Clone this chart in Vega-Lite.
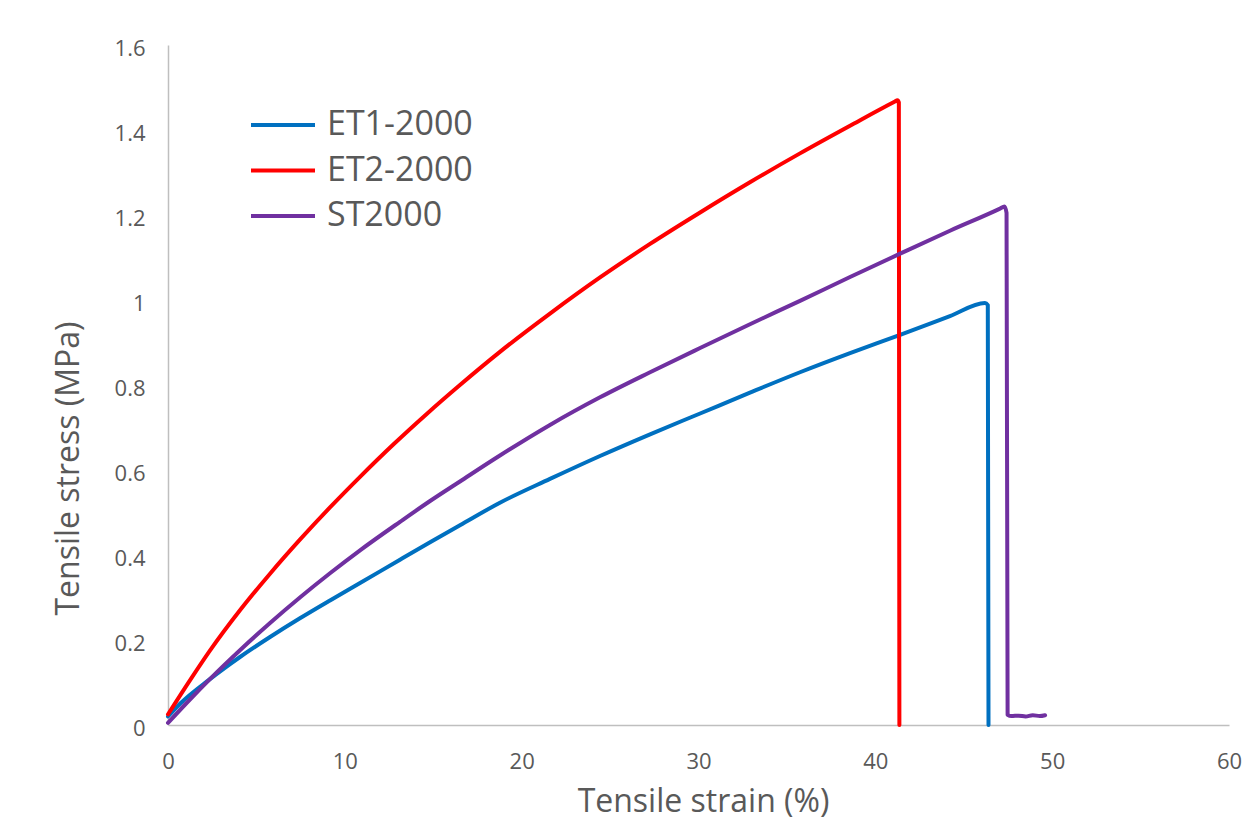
{
  "$schema": "https://vega.github.io/schema/vega-lite/v6.json",
  "autosize": {"type": "none"},
  "width": 1061,
  "height": 680,
  "padding": {"left": 168, "top": 45, "right": 31, "bottom": 98},
  "background": "white",
  "config": {
    "view": {"stroke": null},
    "font": "Open Sans",
    "axis": {
      "grid": false,
      "ticks": false,
      "labelFlush": false,
      "domainColor": "#BFBFBF",
      "domainWidth": 1.5,
      "labelColor": "#595959",
      "labelFont": "Open Sans",
      "labelFontSize": 22,
      "titleColor": "#595959",
      "titleFont": "Open Sans",
      "titleFontSize": 32,
      "titleFontWeight": "normal"
    }
  },
  "data": {
    "values": [
      {"series": "ET1-2000", "strain": 0.0, "stress": 0.02},
      {"series": "ET1-2000", "strain": 0.68, "stress": 0.05},
      {"series": "ET1-2000", "strain": 2.37, "stress": 0.108},
      {"series": "ET1-2000", "strain": 4.07, "stress": 0.16},
      {"series": "ET1-2000", "strain": 5.77, "stress": 0.207},
      {"series": "ET1-2000", "strain": 7.46, "stress": 0.251},
      {"series": "ET1-2000", "strain": 9.16, "stress": 0.293},
      {"series": "ET1-2000", "strain": 10.86, "stress": 0.334},
      {"series": "ET1-2000", "strain": 13.12, "stress": 0.389},
      {"series": "ET1-2000", "strain": 14.82, "stress": 0.43},
      {"series": "ET1-2000", "strain": 16.51, "stress": 0.47},
      {"series": "ET1-2000", "strain": 18.77, "stress": 0.523},
      {"series": "ET1-2000", "strain": 21.6, "stress": 0.579},
      {"series": "ET1-2000", "strain": 24.43, "stress": 0.633},
      {"series": "ET1-2000", "strain": 27.26, "stress": 0.684},
      {"series": "ET1-2000", "strain": 30.09, "stress": 0.733},
      {"series": "ET1-2000", "strain": 32.91, "stress": 0.782},
      {"series": "ET1-2000", "strain": 35.74, "stress": 0.83},
      {"series": "ET1-2000", "strain": 38.57, "stress": 0.875},
      {"series": "ET1-2000", "strain": 41.4, "stress": 0.918},
      {"series": "ET1-2000", "strain": 44.22, "stress": 0.962},
      {"series": "ET1-2000", "strain": 46.2, "stress": 0.993},
      {"series": "ET1-2000", "strain": 46.36, "stress": 0.988},
      {"series": "ET1-2000", "strain": 46.4, "stress": 0.0},

      {"series": "ET2-2000", "strain": 0.0, "stress": 0.025},
      {"series": "ET2-2000", "strain": 1.24, "stress": 0.105},
      {"series": "ET2-2000", "strain": 2.37, "stress": 0.175},
      {"series": "ET2-2000", "strain": 4.07, "stress": 0.27},
      {"series": "ET2-2000", "strain": 5.77, "stress": 0.356},
      {"series": "ET2-2000", "strain": 7.46, "stress": 0.436},
      {"series": "ET2-2000", "strain": 9.16, "stress": 0.512},
      {"series": "ET2-2000", "strain": 10.86, "stress": 0.584},
      {"series": "ET2-2000", "strain": 12.74, "stress": 0.66},
      {"series": "ET2-2000", "strain": 14.63, "stress": 0.732},
      {"series": "ET2-2000", "strain": 16.51, "stress": 0.8},
      {"series": "ET2-2000", "strain": 18.77, "stress": 0.878},
      {"series": "ET2-2000", "strain": 21.6, "stress": 0.968},
      {"series": "ET2-2000", "strain": 24.43, "stress": 1.053},
      {"series": "ET2-2000", "strain": 27.26, "stress": 1.132},
      {"series": "ET2-2000", "strain": 30.09, "stress": 1.206},
      {"series": "ET2-2000", "strain": 32.91, "stress": 1.277},
      {"series": "ET2-2000", "strain": 35.74, "stress": 1.345},
      {"series": "ET2-2000", "strain": 38.57, "stress": 1.41},
      {"series": "ET2-2000", "strain": 41.11, "stress": 1.467},
      {"series": "ET2-2000", "strain": 41.25, "stress": 1.47},
      {"series": "ET2-2000", "strain": 41.33, "stress": 1.465},
      {"series": "ET2-2000", "strain": 41.36, "stress": 0.0},

      {"series": "ST2000", "strain": 0.0, "stress": 0.005},
      {"series": "ST2000", "strain": 1.24, "stress": 0.06},
      {"series": "ST2000", "strain": 2.37, "stress": 0.108},
      {"series": "ST2000", "strain": 4.07, "stress": 0.176},
      {"series": "ST2000", "strain": 5.77, "stress": 0.24},
      {"series": "ST2000", "strain": 7.46, "stress": 0.3},
      {"series": "ST2000", "strain": 9.16, "stress": 0.357},
      {"series": "ST2000", "strain": 10.86, "stress": 0.411},
      {"series": "ST2000", "strain": 13.12, "stress": 0.478},
      {"series": "ST2000", "strain": 14.82, "stress": 0.527},
      {"series": "ST2000", "strain": 16.51, "stress": 0.573},
      {"series": "ST2000", "strain": 18.77, "stress": 0.634},
      {"series": "ST2000", "strain": 21.6, "stress": 0.706},
      {"series": "ST2000", "strain": 24.43, "stress": 0.771},
      {"series": "ST2000", "strain": 27.26, "stress": 0.83},
      {"series": "ST2000", "strain": 30.09, "stress": 0.887},
      {"series": "ST2000", "strain": 32.91, "stress": 0.943},
      {"series": "ST2000", "strain": 35.74, "stress": 0.998},
      {"series": "ST2000", "strain": 38.57, "stress": 1.054},
      {"series": "ST2000", "strain": 41.4, "stress": 1.109},
      {"series": "ST2000", "strain": 44.22, "stress": 1.163},
      {"series": "ST2000", "strain": 47.05, "stress": 1.215},
      {"series": "ST2000", "strain": 47.3, "stress": 1.22},
      {"series": "ST2000", "strain": 47.42, "stress": 1.205},
      {"series": "ST2000", "strain": 47.48, "stress": 0.024},
      {"series": "ST2000", "strain": 47.7, "stress": 0.021},
      {"series": "ST2000", "strain": 48.1, "stress": 0.022},
      {"series": "ST2000", "strain": 48.5, "stress": 0.02},
      {"series": "ST2000", "strain": 48.9, "stress": 0.023},
      {"series": "ST2000", "strain": 49.3, "stress": 0.021},
      {"series": "ST2000", "strain": 49.6, "stress": 0.023}
    ]
  },
  "mark": {"type": "line", "strokeWidth": 4, "strokeCap": "round", "strokeJoin": "round", "interpolate": "monotone"},
  "encoding": {
    "x": {
      "field": "strain",
      "type": "quantitative",
      "scale": {"domain": [0, 60], "nice": false, "zero": false},
      "axis": {
        "values": [0, 10, 20, 30, 40, 50, 60],
        "labelPadding": 26,
        "title": "Tensile strain (%)",
        "titleX": 535,
        "titleY": 76,
        "titleBaseline": "middle"
      }
    },
    "y": {
      "field": "stress",
      "type": "quantitative",
      "scale": {"domain": [0, 1.6], "nice": false},
      "axis": {
        "values": [0, 0.2, 0.4, 0.6, 0.8, 1, 1.2, 1.4, 1.6],
        "format": ".1~f",
        "labelPadding": 23,
        "labelOffset": 3,
        "title": "Tensile stress (MPa)",
        "titleX": -100,
        "titleY": 423,
        "titleAngle": -90,
        "titleBaseline": "middle"
      }
    },
    "color": {
      "field": "series",
      "type": "nominal",
      "scale": {
        "domain": ["ET1-2000", "ET2-2000", "ST2000"],
        "range": ["#0070C0", "#FF0000", "#7030A0"]
      },
      "legend": {
        "title": null,
        "orient": "none",
        "legendX": 97,
        "legendY": 62,
        "symbolType": "M-2,0H2",
        "symbolSize": 1024,
        "symbolStrokeWidth": 4,
        "labelFont": "Open Sans",
        "labelFontSize": 34,
        "labelColor": "#595959",
        "labelOffset": 26,
        "rowPadding": 10.5
      }
    }
  }
}
